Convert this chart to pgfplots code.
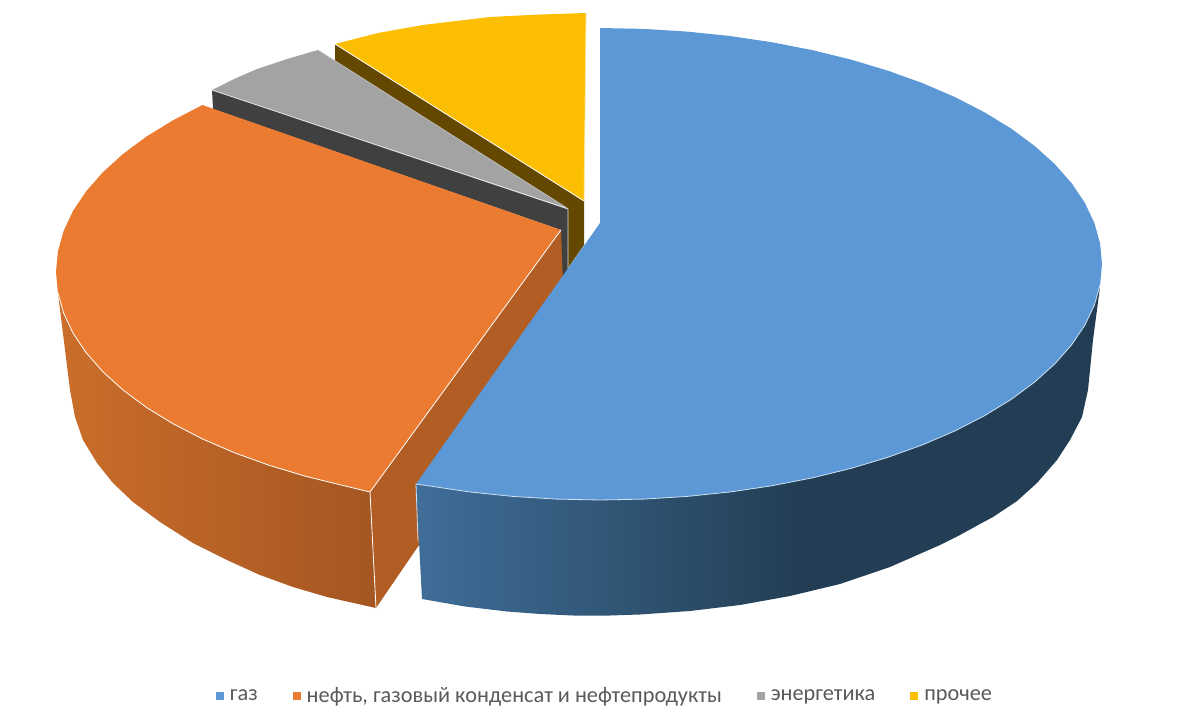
\documentclass[border=0pt]{standalone}
\usepackage{fontspec}
\setmainfont{Carlito}
\usepackage{pgfplots}
\pgfplotsset{compat=1.18}

\definecolor{cblue}{HTML}{5B98D5}
\definecolor{corange}{HTML}{EA7B30}
\definecolor{cgrey}{HTML}{A3A3A3}
\definecolor{cyellow}{HTML}{FBBE00}
\definecolor{cblueface}{HTML}{3F6E99}
\definecolor{cbluedark}{HTML}{233E54}
\definecolor{corangeface}{HTML}{B25D24}
\definecolor{corangeleft}{HTML}{CB6E2B}
\definecolor{corangeright}{HTML}{A45622}
\definecolor{cgreyface}{HTML}{404040}
\definecolor{cyellowface}{HTML}{644800}
\definecolor{ctext}{HTML}{595959}

% walls: the colour runs from left to right over the slice
\pgfdeclarehorizontalshading{bluewall}{100bp}{color(0bp)=(cblueface); color(25bp)=(cblueface); color(53bp)=(cbluedark); color(100bp)=(cbluedark)}
\pgfdeclarehorizontalshading{orangewall}{100bp}{color(0bp)=(corangeleft); color(25bp)=(corangeleft); color(75bp)=(corangeright); color(100bp)=(corangeright)}

\begin{document}
\begin{tikzpicture}
\begin{axis}[
  x=1pt, y=1pt,
  xmin=0, xmax=1200, ymin=0, ymax=715,
  y dir=reverse,
  hide axis,
  clip=false,
  legend style={at={(axis cs:605,696)}, anchor=center, draw=none, fill=none,
    font=\fontsize{22.3}{25}\selectfont\color{ctext},
    /tikz/every even column/.append style={column sep=33pt},
    /tikz/every odd column/.append style={column sep=4pt}},
  legend columns=4,
  legend image code/.code={\fill[#1] (0pt,-4pt) rectangle (8pt,4pt);},
]
% keep the whole canvas in the picture
\path (axis cs:0,0) (axis cs:1200,715);

% yellow slice
\addplot[draw=none, fill=cyellowface, forget plot] coordinates {(335,44) (584,201) (584,245) (568,268) (568,209) (335,62)};
\addplot[draw=none, fill=cyellow, forget plot] coordinates {(335,44) (378,33) (423,25) (490,17) (540,14.5) (586,13) (585,110) (584,201)};
\addplot[white, line width=0.8pt, forget plot] coordinates {(335,44) (584,201)};
\addplot[white!60!cyellow, line width=0.8pt, forget plot] coordinates {(586,13) (585,110) (584,201)};

% grey slice
\addplot[draw=none, fill=cgreyface, forget plot] coordinates {(212,90) (568,209) (568,273) (561,280) (561,230) (213,109)};
\addplot[draw=none, fill=cgrey, forget plot] coordinates {(212,90) (234,79) (257,69) (287,59) (318,50) (567,208)};
\addplot[white!70!cgrey, line width=0.8pt, forget plot] coordinates {(212,90) (568,209) (568,273)};
\addplot[white!40!cgrey, line width=0.6pt, forget plot] coordinates {(318,50) (567,208)};

% orange slice
\addplot[draw=none, fill=corangeface, forget plot] coordinates {(561,230) (370,492) (376,608) (417,548) (565,340)};
\addplot[draw=none, shade, shading=orangewall, forget plot] coordinates {
  (57.9,292.6) (63.6,313) (73,333.1) (86.2,352.7) (102.8,371.7) (123,390) (146.4,407.4) (173,423.7)
  (202.4,438.9) (234.6,452.8) (269.2,465.3) (306,476.4) (344.7,485.9) (370,492)
  (376,608) (327,597) (293,587) (260,575) (227,560) (193,543) (160,522) (133,502) (113,483) (97,463)
  (83,440) (75,417) (70,390) };
\addplot[draw=none, fill=corange, forget plot] coordinates {
  (561,230) (202.4,105) (173,120.3) (146.4,136.6) (123,154) (102.8,172.3) (86.2,191.3) (73,210.9)
  (63.6,231) (57.9,251.4) (56,272) (57.9,292.6) (63.6,313) (73,333.1) (86.2,352.7) (102.8,371.7)
  (123,390) (146.4,407.4) (173,423.7) (202.4,438.9) (234.6,452.8) (269.2,465.3) (306,476.4)
  (344.7,485.9) (370,492) };
\addplot[white, line width=0.8pt, forget plot] coordinates {
  (57.9,292.6) (63.6,313) (73,333.1) (86.2,352.7) (102.8,371.7) (123,390) (146.4,407.4) (173,423.7)
  (202.4,438.9) (234.6,452.8) (269.2,465.3) (306,476.4) (344.7,485.9) (370,492) (561,230)};
\addplot[white, line width=0.8pt, forget plot] coordinates {(370,492) (376,608)};

% blue slice
\addplot[draw=none, shade, shading=bluewall, forget plot] coordinates {
  (1100,287) (1084.9,325.1) (1055,363.7) (1011.2,399.4) (955,430.9) (887.9,457.3) (812.2,477.9)
  (729.9,492) (643.8,499.1) (556.2,499.1) (470.1,492) (416,484)
  (422,599) (465,606.5) (507,611.5) (540,614) (573,615.5) (610,615.5) (640,614.5) (690,611) (740,605)
  (790,596) (840,584) (890,567) (940,545) (960,535) (980,524) (993,517) (1017,501) (1037,483)
  (1057,460) (1070,440) (1082,417) (1088,390) (1093,340) };
\addplot[draw=none, fill=cblue, forget plot] coordinates {
  (600,28) (643.8,28.9) (687.2,31.6) (729.9,36) (771.7,42.2) (812.2,50.1) (851,59.6) (887.9,70.7)
  (922.7,83.2) (955,97.1) (984.5,112.3) (1011.2,128.6) (1034.7,146) (1055,164.3) (1071.7,183.3)
  (1084.9,202.9) (1094.4,223) (1100.1,243.4) (1102,264) (1100.1,284.6) (1094.4,305) (1084.9,325.1)
  (1071.7,344.7) (1055,363.7) (1034.7,382) (1011.2,399.4) (984.5,415.7) (955,430.9) (922.7,444.8)
  (887.9,457.3) (851,468.4) (812.2,477.9) (771.7,485.8) (729.9,492) (687.2,496.4) (643.8,499.1)
  (600,500) (556.2,499.1) (512.8,496.4) (470.1,492) (416,484) (600,223) };
\addplot[white!70!cblue, line width=0.8pt, forget plot] coordinates {
  (1100.1,284.6) (1094.4,305) (1084.9,325.1) (1071.7,344.7) (1055,363.7) (1034.7,382) (1011.2,399.4)
  (984.5,415.7) (955,430.9) (922.7,444.8) (887.9,457.3) (851,468.4) (812.2,477.9) (771.7,485.8)
  (729.9,492) (687.2,496.4) (643.8,499.1) (600,500) (556.2,499.1) (512.8,496.4) (470.1,492) (416,484)
  (418,541)};

% legend
\addlegendimage{fill=cblue, draw=none}
\addlegendentry{газ}
\addlegendimage{fill=corange, draw=none}
\addlegendentry{нефть, газовый конденсат и нефтепродукты}
\addlegendimage{fill=cgrey, draw=none}
\addlegendentry{энергетика}
\addlegendimage{fill=cyellow, draw=none}
\addlegendentry{прочее}
\end{axis}
\end{tikzpicture}
\end{document}
